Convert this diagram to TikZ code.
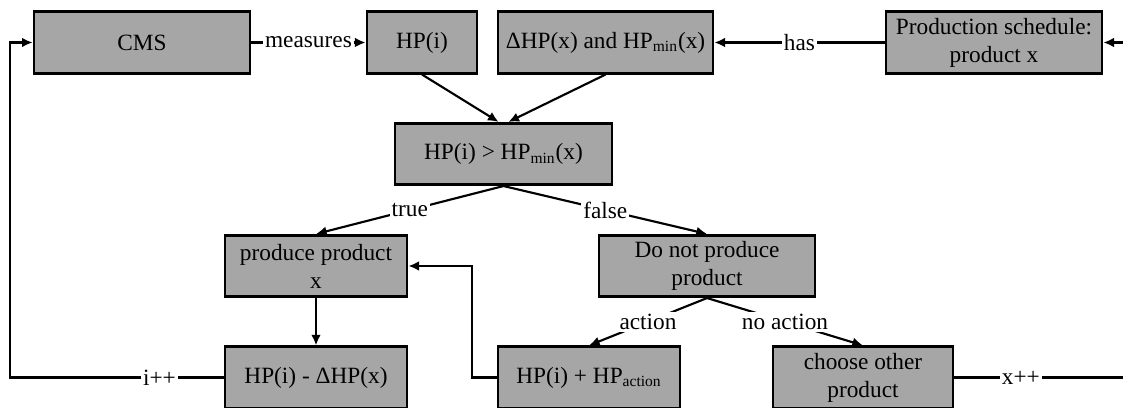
\documentclass[tikz,border=0pt]{standalone}
\usepackage{fontspec}
\setmainfont{Liberation Serif}
\usepackage{tikz}
\usetikzlibrary{arrows.meta}
\definecolor{boxgray}{RGB}{166,166,166}

\begin{document}
\begin{tikzpicture}[x=0.515pt,y=-0.515pt,
        font=\fontsize{12}{14.5}\selectfont,
        box/.style={draw,fill=boxgray,line width=1.4pt,minimum height=31.6pt,align=center,inner sep=2pt},
        arr/.style={line width=1.1pt,-{Latex[length=5.5pt,width=5pt]}},
        lbl/.style={fill=white,inner sep=1pt}]
            \useasboundingbox (0,0) rectangle (1123,408);
            \node[box,minimum width=111.2pt] (cms) at (142,42.5) {CMS};
            \node[box,minimum width=56.7pt] (hpi) at (422,42.5) {HP(i)};
            \node[box,minimum width=110.7pt] (delta) at (605.5,42.5) {ΔHP(x) and HP\textsubscript{min}(x)};
            \node[box,minimum width=111.2pt] (sched) at (994,42.5) {Production schedule:\\product x};
            \node[box,minimum width=111.8pt] (cond) at (503.5,154) {HP(i) > HP\textsubscript{min}(x)};
            \node[box,minimum width=93.7pt] (prod) at (316,266) {produce product\\x};
            \node[box,minimum width=111.2pt] (noprod) at (707,266) {Do not produce\\product};
            \node[box,minimum width=93.7pt] (minus) at (316,377.5) {HP(i) - ΔHP(x)};
            \node[box,minimum width=93.7pt] (plus) at (589,377.5) {HP(i) + HP\textsubscript{action}};
            \node[box,minimum width=92.7pt] (other) at (863,377.5) {choose other\\product};
            \draw[arr] (cms) -- node[lbl]{measures} (hpi);
            \draw[arr] (sched) -- node[lbl]{has} (delta);
            \draw[arr] (hpi.south) -- ([xshift=-2.5pt]cond.north);
            \draw[arr] (delta.south) -- ([xshift=2.5pt]cond.north);
            \draw[arr] (cond.south) -- node[lbl]{true} (prod.north);
            \draw[arr] (cond.south) -- node[lbl]{false} (noprod.north);
            \draw[arr] (prod) -- (minus);
            \draw[arr] (plus.west) -- ++(-25,0) |- (prod.east);
            \draw[arr] (noprod.south) -- node[lbl]{action} (plus.north);
            \draw[arr] (noprod.south) -- node[lbl]{no action} (other.north);
            % loops back to the top row
            \draw[arr] (minus.west) -- node[lbl,pos=0.3]{i++} ++(-214,0) |- (cms.west);
            \draw[arr] (other.east) -- node[lbl,pos=0.35]{x++} ++(190,0) |- (sched.east);
        \end{tikzpicture}
\end{document}
